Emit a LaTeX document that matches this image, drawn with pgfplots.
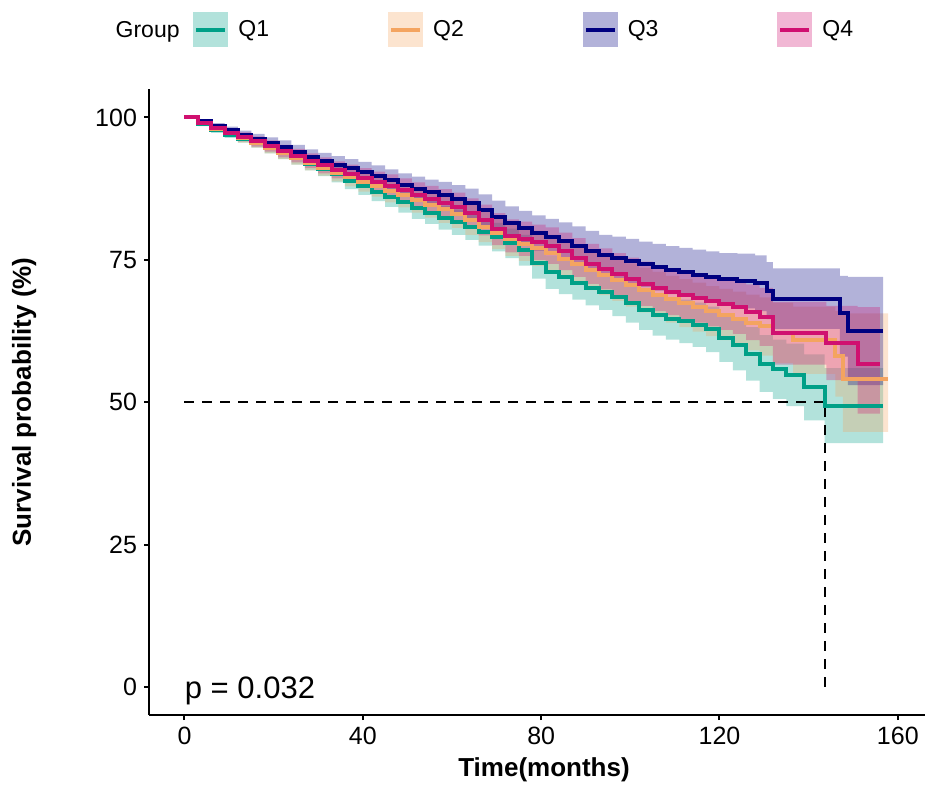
\documentclass[border=0pt]{standalone}
\usepackage{fontspec}
\setmainfont{Liberation Sans}
\usepackage{pgfplots}
\pgfplotsset{compat=1.18}
\usepgfplotslibrary{fillbetween}
\usepackage{pgfplotstable}

\definecolor{qone}{RGB}{0,160,135}
\definecolor{qtwo}{RGB}{244,164,96}
\definecolor{qthree}{RGB}{0,0,128}
\definecolor{qfour}{RGB}{208,16,112}

% time, survival, lower CI, upper CI (percent)
\pgfplotstableread{
t s l u
0 100 100 100
3 98.9 98.5 99.3
6 97.8 97.3 98.3
9 97.0 96.4 97.6
12 96.3 95.6 97.0
15 95.5 94.7 96.3
18 94.6 93.7 95.5
21 93.7 92.7 94.7
24 92.8 91.7 93.9
27 91.9 90.7 93.1
30 91.0 89.7 92.3
33 90.0 88.6 91.4
36 88.9 87.4 90.4
39 87.9 86.4 89.4
42 86.9 85.3 88.5
45 86.0 84.3 87.7
48 85.1 83.3 86.9
51 84.1 82.2 86.0
54 83.3 81.3 85.3
57 82.4 80.3 84.5
60 81.6 79.4 83.8
63 80.8 78.5 83.1
66 79.9 77.5 82.3
69 79.0 76.5 81.5
72 77.9 75.3 80.5
75 76.7 74.0 79.4
78 74.5 71.7 77.3
81 72.8 69.9 75.7
84 72.0 69.0 75.0
87 71.0 68.0 74.0
90 70.1 67.0 73.2
93 69.4 66.2 72.6
96 68.4 65.1 71.7
99 67.4 64.0 70.8
102 66.2 62.7 69.7
105 65.3 61.7 68.9
108 64.7 61.0 68.4
111 64.2 60.4 68.0
114 63.6 59.7 67.5
117 62.8 58.8 66.8
120 61.3 57.1 65.5
123 60.0 55.6 64.4
126 58.5 53.8 63.2
129 56.8 51.8 61.8
132 55.8 50.6 61.0
135 54.8 49.3 60.3
139 52.6 46.8 58.4
143.6 49.4 42.8 56.0
156.7 49.4 42.8 56.0
}\tabone

\pgfplotstableread{
t s l u
0 100 100 100
3 99.0 98.6 99.4
6 98.0 97.5 98.5
9 97.2 96.6 97.8
12 96.4 95.6 97.2
15 95.6 94.7 96.5
18 94.7 93.7 95.7
21 93.8 92.7 94.9
24 92.9 91.7 94.1
27 92.0 90.7 93.3
30 91.2 89.8 92.6
33 90.3 88.8 91.8
36 89.5 87.9 91.1
39 88.7 87.0 90.4
42 87.9 86.1 89.7
45 87.1 85.1 89.1
48 86.3 84.2 88.4
51 85.5 83.3 87.7
54 84.7 82.4 87.0
57 83.9 81.5 86.3
60 83.1 80.6 85.6
63 82.0 79.4 84.6
66 80.8 78.1 83.5
69 79.7 76.9 82.5
72 78.6 75.7 81.5
75 77.8 74.8 80.8
78 77.0 73.9 80.1
81 76.2 73.0 79.4
84 75.2 71.9 78.5
87 74.2 70.8 77.6
90 73.2 69.7 76.7
93 72.4 68.8 76.0
96 71.5 67.8 75.2
99 70.6 66.8 74.4
102 69.7 65.8 73.6
105 68.9 64.9 72.9
108 68.1 64.0 72.2
111 67.4 63.2 71.6
114 66.7 62.4 71.0
117 66.0 61.6 70.4
120 65.4 60.9 69.9
123 64.7 60.0 69.4
126 64.0 59.1 68.9
129 63.3 58.2 68.4
132 62.2 56.9 67.5
136.5 60.9 55.0 66.8
146 58.2 51.0 66.0
147.7 54.0 44.8 65.6
157.8 54.0 44.8 65.6
}\tabtwo

\pgfplotstableread{
t s l u
0 100 100 100
3 99.3 98.9 99.7
6 98.5 98.0 99.0
9 97.8 97.2 98.4
12 97.0 96.3 97.7
15 96.3 95.5 97.1
18 95.6 94.7 96.5
21 94.9 93.8 96.0
24 94.0 92.8 95.2
27 93.1 91.8 94.4
30 92.4 91.0 93.8
33 91.7 90.2 93.2
36 91.1 89.5 92.7
39 90.5 88.8 92.2
42 89.8 88.0 91.6
45 89.0 87.1 90.9
48 88.2 86.2 90.2
51 87.5 85.4 89.6
54 86.9 84.7 89.1
57 86.3 83.9 88.7
60 85.6 83.1 88.1
63 84.9 82.3 87.5
66 83.8 81.1 86.5
69 82.6 79.8 85.4
72 81.5 78.6 84.4
75 80.6 77.6 83.6
78 79.7 76.6 82.8
81 79.0 75.8 82.2
84 78.3 75.0 81.6
87 77.5 74.1 80.9
90 76.6 73.1 80.1
93 75.8 72.2 79.4
96 75.3 71.5 79.1
99 74.8 70.9 78.7
102 74.2 70.2 78.2
105 73.7 69.6 77.8
108 73.2 69.0 77.4
111 72.8 68.5 77.1
114 72.4 68.0 76.8
117 72.0 67.5 76.5
120 71.6 67.0 76.2
124 71.3 66.5 76.1
128 70.9 66.0 75.8
130.6 69.6 64.6 74.6
132 68.2 62.9 73.5
147 65.6 58.0 72.2
148.8 62.5 53.0 72.0
156.7 62.5 53.0 72.0
}\tabthree

\pgfplotstableread{
t s l u
0 100 100 100
3 99.0 98.6 99.4
6 98.1 97.6 98.6
9 97.3 96.7 97.9
12 96.6 95.8 97.4
15 95.8 94.9 96.7
18 95.0 94.0 96.0
21 94.1 93.0 95.2
24 93.3 92.1 94.5
27 92.4 91.1 93.7
30 91.6 90.2 93.0
33 90.8 89.3 92.3
36 90.1 88.5 91.7
39 89.4 87.7 91.1
42 88.7 86.9 90.5
45 88.0 86.0 90.0
48 87.2 85.1 89.3
51 86.4 84.2 88.6
54 85.7 83.4 88.0
57 85.0 82.6 87.4
60 84.3 81.8 86.8
63 83.2 80.6 85.8
66 82.0 79.3 84.7
69 80.4 77.6 83.2
72 79.2 76.3 82.1
75 78.7 75.7 81.7
78 78.1 75.0 81.2
81 77.5 74.3 80.7
84 76.5 73.2 79.8
87 75.4 72.0 78.8
90 74.3 70.8 77.8
93 73.4 69.8 77.0
96 72.5 68.8 76.2
99 71.6 67.8 75.4
102 70.8 66.9 74.7
105 70.0 66.0 74.0
108 69.4 65.3 73.5
111 68.8 64.6 73.0
114 68.3 64.0 72.6
117 67.7 63.3 72.1
120 67.2 62.7 71.7
123 66.7 62.0 71.4
126 65.8 60.9 70.7
129 65.0 59.9 70.1
132 62.1 56.6 67.6
144 60.4 53.9 66.9
151 56.7 48.0 66.7
156 56.7 48.0 66.7
}\tabfour

\begin{document}
\begin{tikzpicture}
\begin{axis}[
    name=ax,
    scale only axis,
    width=388pt, height=313pt,
    xmin=-7.96, xmax=166.1,
    ymin=-4.92, ymax=105,
    axis lines=left,
    axis line style={-, line width=1pt, black},
    tick align=outside,
    major tick length=2.5pt,
    tick style={black, line width=1pt},
    xtick={0,40,80,120,160},
    ytick={0,25,50,75,100},
    /pgf/number format/assume math mode=true,
    ticklabel style={font=\fontsize{12.5}{15}\selectfont},
    xlabel={Time(months)},
    ylabel={Survival probability (\%)},
    label style={font=\bfseries\fontsize{13}{15}\selectfont},
    xlabel style={at={(axis description cs:0.509,-0.088)}, anchor=center},
    ylabel style={at={(axis description cs:-0.161,0.5)}, anchor=center},
    legend columns=4,
    legend cell align=left,
    legend style={at={(axis description cs:0.049,1.095)}, anchor=west,
        draw=none, fill=none, font=\fontsize{11.5}{13}\selectfont,
        /tikz/every even column/.append style={column sep=57.5pt}},
    legend image code/.code={
        \fill[draw=none, fill opacity=0.3] (0pt,-8.75pt) rectangle (17.5pt,8.75pt);
        \draw[line width=2pt] (1.5pt,0pt) -- (16pt,0pt);
        \path[draw=none] (0pt,0pt) -- (20.5pt,0pt);
    },
]

% confidence bands
\addplot[name path=q1u, draw=none, const plot, forget plot] table[x=t,y=u]{\tabone};
\addplot[name path=q1l, draw=none, const plot, forget plot] table[x=t,y=l]{\tabone};
\addplot[fill=qone, fill opacity=0.3, draw=none, forget plot] fill between[of=q1u and q1l];

\addplot[name path=q2u, draw=none, const plot, forget plot] table[x=t,y=u]{\tabtwo};
\addplot[name path=q2l, draw=none, const plot, forget plot] table[x=t,y=l]{\tabtwo};
\addplot[fill=qtwo, fill opacity=0.3, draw=none, forget plot] fill between[of=q2u and q2l];

\addplot[name path=q3u, draw=none, const plot, forget plot] table[x=t,y=u]{\tabthree};
\addplot[name path=q3l, draw=none, const plot, forget plot] table[x=t,y=l]{\tabthree};
\addplot[fill=qthree, fill opacity=0.3, draw=none, forget plot] fill between[of=q3u and q3l];

\addplot[name path=q4u, draw=none, const plot, forget plot] table[x=t,y=u]{\tabfour};
\addplot[name path=q4l, draw=none, const plot, forget plot] table[x=t,y=l]{\tabfour};
\addplot[fill=qfour, fill opacity=0.3, draw=none, forget plot] fill between[of=q4u and q4l];

% median survival guide
\addplot[black, line width=1pt, dash pattern=on 5pt off 4pt, forget plot] coordinates {(0,50) (143.6,50)};
\addplot[black, line width=1pt, dash pattern=on 5pt off 4pt, forget plot] coordinates {(143.6,0) (143.6,50)};

% survival curves
\addplot[qone, line width=2pt, const plot] table[x=t,y=s]{\tabone};
\addlegendentry{Q1}
\addplot[qtwo, line width=2pt, const plot] table[x=t,y=s]{\tabtwo};
\addlegendentry{Q2}
\addplot[qthree, line width=2pt, const plot] table[x=t,y=s]{\tabthree};
\addlegendentry{Q3}
\addplot[qfour, line width=2pt, const plot] table[x=t,y=s]{\tabfour};
\addlegendentry{Q4}

\node[anchor=base west, inner sep=0pt, font=\fontsize{15.5}{18}\selectfont] at (axis cs:0,-2.1) {p = 0.032};
\end{axis}
\node[anchor=base east, inner sep=0pt, font=\fontsize{11.5}{13}\selectfont] at ([shift={(15.5pt,25.5pt)}]ax.north west) {Group};
\pgfresetboundingbox
\path ([shift={(-74.5pt,-34.5pt)}]ax.south west) rectangle ([shift={(0pt,44.5pt)}]ax.north east);
\end{tikzpicture}
\end{document}
